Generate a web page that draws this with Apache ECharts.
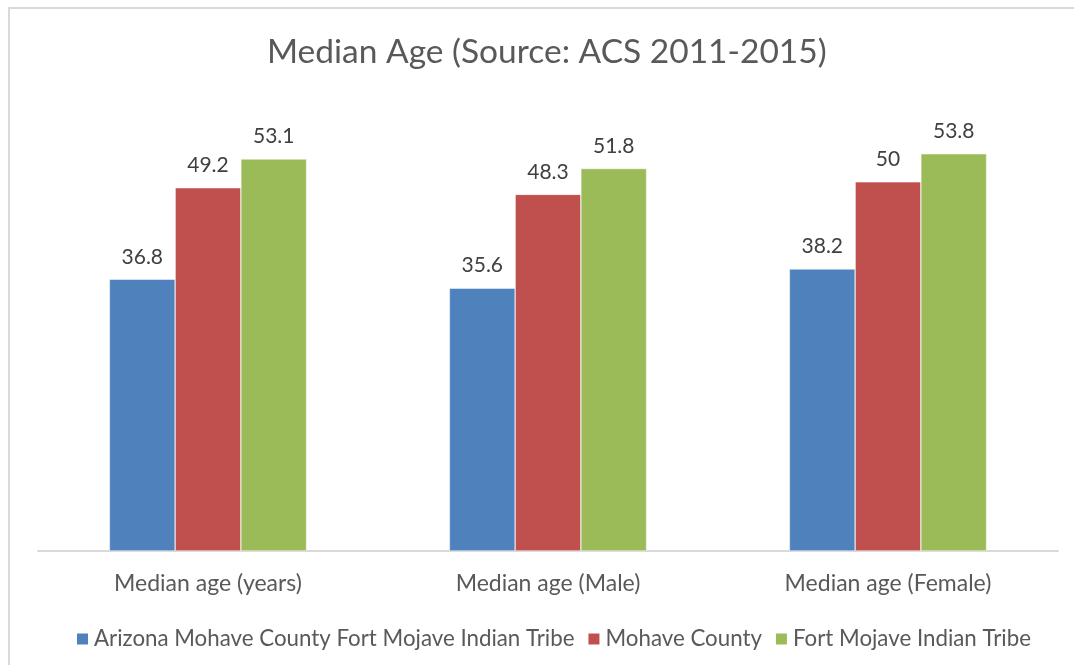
<!DOCTYPE html>
<html>
<head>
<meta charset="utf-8">
<script src="https://cdn.jsdelivr.net/npm/echarts@6/dist/echarts.min.js"></script>
<style>
  html, body { margin: 0; padding: 0; background: #fff; }
  #chart { width: 1074px; height: 665px; }
</style>
</head>
<body>
<div id="chart"></div>
<script>
// Median age by group, ACS 2011-2015
const categories = ['Median age (years)', 'Median age (Male)', 'Median age (Female)'];
const seriesNames = ['Arizona Mohave County Fort Mojave Indian Tribe', 'Mohave County', 'Fort Mojave Indian Tribe'];
const tribeVals = [36.8, 35.6, 38.2];
const countyVals = [49.2, 48.3, 50];
const fortVals = [53.1, 51.8, 53.8];

const COLORS = ['#4f81bd', '#c0504d', '#9bbb59'];
const FONT = 'Lato, "Open Sans", sans-serif';

const chart = echarts.init(document.getElementById('chart'));

const mkSeries = (name, vals, i) => ({
  name,
  type: 'bar',
  data: vals,
  barGap: '0%',
  barCategoryGap: '42%',
  itemStyle: { color: COLORS[i], borderColor: '#fff', borderWidth: 0.5 },
  label: {
    show: true, position: 'top', distance: 12,
    color: '#404040', fontFamily: FONT, fontSize: 21
  }
});

chart.setOption({
  animation: false,
  backgroundColor: '#fff',
  title: {
    text: 'Median Age (Source: ACS 2011-2015)',
    left: 267, top: 35, padding: 0,
    textStyle: { color: '#595959', fontFamily: FONT, fontSize: 33.5, fontWeight: 'normal' }
  },
  graphic: [{
    type: 'rect', silent: true, z: -1,
    shape: { x: 9, y: 8, width: 1200, height: 800 },
    style: { fill: 'none', stroke: '#d9d9d9', lineWidth: 2 }
  }],
  legend: {
    bottom: 15, left: 75, padding: 0,
    itemWidth: 13, itemHeight: 13, itemGap: 12,
    icon: 'rect',
    textStyle: { color: '#595959', fontFamily: FONT, fontSize: 22.3 },
    data: seriesNames
  },
  grid: { left: 38, right: 16, top: 108, bottom: 114 },
  xAxis: {
    type: 'category',
    data: categories,
    axisLine: { lineStyle: { color: '#d9d9d9', width: 2 } },
    axisTick: { show: false },
    axisLabel: { color: '#595959', fontFamily: FONT, fontSize: 23, margin: 21 }
  },
  yAxis: {
    type: 'value', min: 0, max: 60,
    show: false,
    splitLine: { show: false }
  },
  series: [
    mkSeries(seriesNames[0], tribeVals, 0),
    mkSeries(seriesNames[1], countyVals, 1),
    mkSeries(seriesNames[2], fortVals, 2)
  ]
});
</script>
</body>
</html>
